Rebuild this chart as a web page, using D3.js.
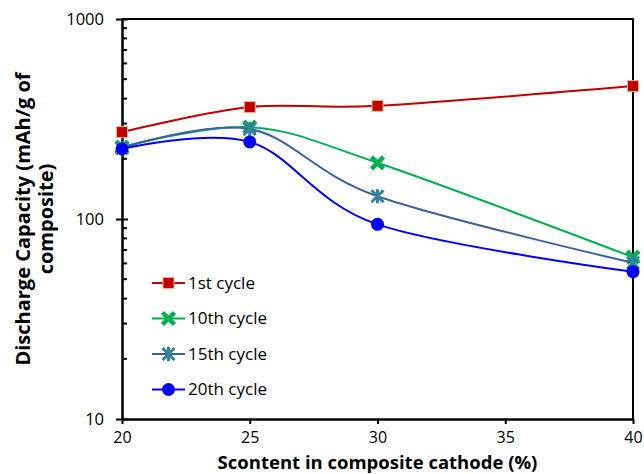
<!DOCTYPE html>
<html>
<head>
<meta charset="utf-8">
<script src="https://cdn.jsdelivr.net/npm/d3@7"></script>
<style>
  body { margin: 0; background: #fff; }
  svg text { font-family: "Open Sans", sans-serif; fill: #000; }
</style>
</head>
<body>
<div id="chart"></div>
<script>
// data
const scontent = [20, 25, 30, 40]
const cycle1 = [272, 363, 368, 462]
const cycle10 = [229, 288, 191, 64.5]
const cycle15 = [226, 282, 130, 60.4]
const cycle20 = [224, 243, 94, 54.5]
const xTicks = [20, 25, 30, 35, 40]
const yTicks = [10, 100, 1000]

const width = 644, height = 474
const margin = {top: 19, right: 11, bottom: 55, left: 122}

const series = [
  {name: '1st cycle', values: cycle1, line: '#C00000', marker: 'square'},
  {name: '10th cycle', values: cycle10, line: '#00B050', marker: 'x', mcolor: '#00B050'},
  {name: '15th cycle', values: cycle15, line: '#3A62A0', marker: 'star', mcolor: '#31849B'},
  {name: '20th cycle', values: cycle20, line: '#0000FF', marker: 'circle', mcolor: '#0000FF'}
]

const svg = d3.select('#chart').append('svg')
  .attr('width', width)
  .attr('height', height)

const x = d3.scaleLinear()
  .domain([20, 40])
  .range([margin.left, width - margin.right])

const y = d3.scaleLog()
  .domain([10, 1000])
  .range([height - margin.bottom, margin.top])

// frame (top + right)
svg.append('path')
  .attr('d', `M${x(20)},${y(1000)} H${x(40)} V${y(10)}`)
  .attr('fill', 'none')
  .attr('stroke', '#000')
  .attr('stroke-width', 2)

// minor log ticks on the inside
const minor = []
for (let d = 10; d < 1000; d *= 10) {
  for (let k = 2; k <= 9; k++) minor.push(d * k)
}
svg.append('g').selectAll('line')
  .data(minor)
  .enter().append('line')
  .attr('x1', x(20)).attr('x2', x(20) + 5)
  .attr('y1', d => y(d)).attr('y2', d => y(d))
  .attr('stroke', '#000').attr('stroke-width', 2)

// y axis
const yAxis = svg.append('g')
  .attr('transform', `translate(${x(20)},0)`)
  .call(d3.axisLeft(y).tickValues(yTicks).tickFormat(d3.format('d')).tickSizeInner(6).tickSizeOuter(0).tickPadding(12))
yAxis.select('.domain').attr('stroke-width', 2.5)
yAxis.selectAll('.tick line').attr('x2', -6).attr('x1', 6).attr('stroke-width', 2)
yAxis.selectAll('text').style('font-size', '16.5px').style('font-family', '"Open Sans", sans-serif')

// x axis
const xAxis = svg.append('g')
  .attr('transform', `translate(0,${y(10)})`)
  .call(d3.axisBottom(x).tickValues(xTicks).tickSizeInner(5).tickSizeOuter(0).tickPadding(8))
xAxis.select('.domain').attr('stroke-width', 2.5)
xAxis.selectAll('.tick line').attr('stroke-width', 2)
xAxis.selectAll('text').style('font-size', '16px').style('font-family', '"Open Sans", sans-serif')

// axis titles
svg.append('text')
  .attr('x', (x(20) + x(40)) / 2)
  .attr('y', 468.5)
  .attr('text-anchor', 'middle')
  .style('font-size', '18.5px')
  .style('font-weight', 'bold')
  .text('Scontent in composite cathode (%)')

const yt = svg.append('text')
  .attr('transform', `translate(30,${y(100)}) rotate(-90)`)
  .attr('text-anchor', 'middle')
  .style('font-size', '20px')
  .style('font-weight', 'bold')
yt.append('tspan').attr('x', 0).attr('dy', 0).text('Discharge Capacity (mAh/g of')
yt.append('tspan').attr('x', 0).attr('dy', 23).text('composite)')

const line = d3.line()
  .x((d, i) => x(scontent[i]))
  .y(d => y(d))
  .curve(d3.curveCardinal.tension(0))

function drawMarker(g, s, cx, cy) {
  if (s.marker === 'square') {
    g.append('rect')
      .attr('x', cx - 5.5).attr('y', cy - 5.5)
      .attr('width', 11).attr('height', 11)
      .attr('fill', '#C00000')
      .attr('stroke', '#F4B183').attr('stroke-width', 1)
  } else if (s.marker === 'x') {
    g.append('path')
      .attr('d', `M${cx - 6},${cy - 6}L${cx + 6},${cy + 6}M${cx - 6},${cy + 6}L${cx + 6},${cy - 6}`)
      .attr('stroke', s.mcolor).attr('stroke-width', 4.5)
  } else if (s.marker === 'star') {
    g.append('path')
      .attr('d', `M${cx - 6},${cy - 6}L${cx + 6},${cy + 6}M${cx - 6},${cy + 6}L${cx + 6},${cy - 6}M${cx},${cy - 7}L${cx},${cy + 7}`)
      .attr('stroke', s.mcolor).attr('stroke-width', 3)
  } else {
    g.append('circle')
      .attr('cx', cx).attr('cy', cy).attr('r', 6.5)
      .attr('fill', s.mcolor)
  }
}

const plot = svg.append('g')
series.forEach(s => {
  const g = plot.append('g')
  g.append('path')
    .datum(s.values)
    .attr('d', line)
    .attr('fill', 'none')
    .attr('stroke', s.line)
    .attr('stroke-width', 2)
  s.values.forEach((v, i) => drawMarker(g, s, x(scontent[i]), y(v)))
})

// legend
const legend = svg.append('g')
series.forEach((s, i) => {
  const ly = 283 + i * 35.5
  const g = legend.append('g')
  g.append('line')
    .attr('x1', 152).attr('x2', 185)
    .attr('y1', ly).attr('y2', ly)
    .attr('stroke', s.line).attr('stroke-width', 2)
  drawMarker(g, s, 168.5, ly)
  g.append('text')
    .attr('x', 188).attr('y', ly)
    .attr('dy', '0.35em')
    .style('font-size', '17px')
    .text(s.name)
})
</script>
</body>
</html>
